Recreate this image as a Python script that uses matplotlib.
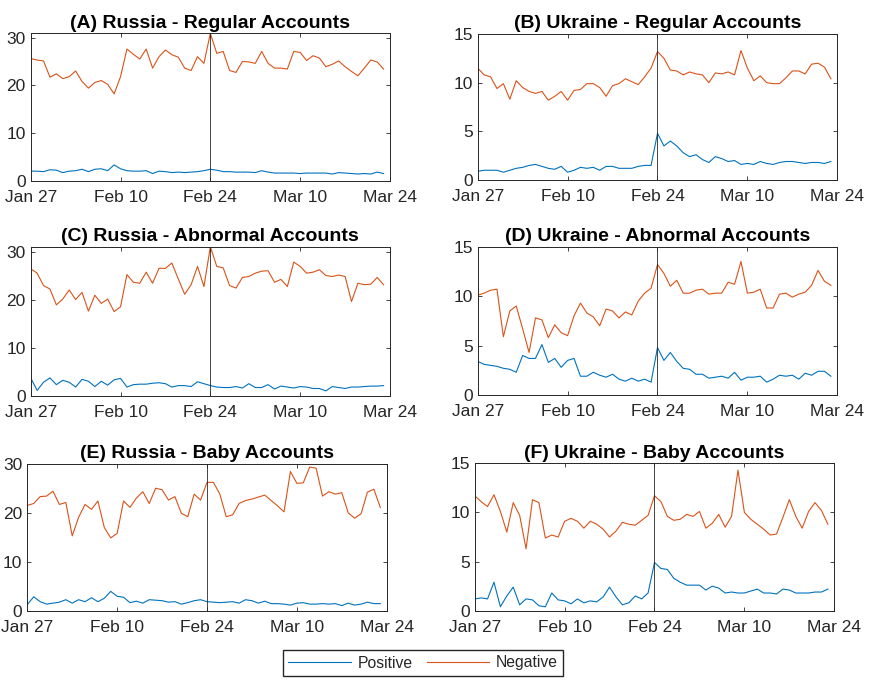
import matplotlib
matplotlib.use("Agg")
import matplotlib.pyplot as plt
import matplotlib.dates as mdates
import pandas as pd

plt.rcParams["font.family"] = ["Liberation Sans", "DejaVu Sans"]

dates = pd.date_range("2022-01-27", periods=56, freq="D")
war_start = pd.Timestamp("2022-02-24")
x_start = pd.Timestamp("2022-01-27")
x_end = pd.Timestamp("2022-03-24")

titles = [
    "(A) Russia - Regular Accounts",
    "(B) Ukraine - Regular Accounts",
    "(C) Russia - Abnormal Accounts",
    "(D) Ukraine - Abnormal Accounts",
    "(E) Russia - Baby Accounts",
    "(F) Ukraine - Baby Accounts",
]

ru_regular_pos = [2.0, 2.0, 1.9, 2.3, 2.2, 1.7, 2.0, 2.1, 2.4, 1.9, 2.4, 2.5, 2.1, 3.3, 2.5, 2.1,
                  2.0, 2.0, 2.1, 1.5, 2.0, 1.9, 1.7, 1.8, 1.7, 1.8, 1.9, 2.1, 2.4, 2.2, 1.9, 1.9,
                  1.8, 1.8, 1.8, 1.7, 2.1, 1.8, 1.6, 1.6, 1.6, 1.6, 1.5, 1.6, 1.6, 1.6, 1.6, 1.4,
                  1.7, 1.6, 1.5, 1.4, 1.5, 1.4, 1.8, 1.5]
ru_regular_neg = [25.6, 25.3, 25.1, 21.7, 22.4, 21.4, 21.8, 23.0, 20.8, 19.4, 20.6, 21.0, 20.2,
                  18.2, 21.8, 27.6, 26.5, 25.5, 27.6, 23.6, 26.0, 27.4, 26.4, 25.9, 23.6, 23.1,
                  26.0, 24.6, 30.9, 26.7, 27.1, 23.1, 22.7, 25.0, 24.9, 24.6, 27.1, 24.6, 23.6,
                  23.6, 23.4, 27.1, 26.9, 25.2, 26.2, 25.7, 23.9, 24.4, 25.1, 23.9, 22.9, 22.0,
                  23.6, 25.3, 24.9, 23.4]

ua_regular_pos = [0.9, 1.0, 1.0, 1.0, 0.8, 1.0, 1.2, 1.3, 1.5, 1.6, 1.4, 1.2, 1.1, 1.4, 0.8, 1.0,
                  1.3, 1.2, 1.3, 1.0, 1.4, 1.4, 1.2, 1.2, 1.2, 1.4, 1.5, 1.5, 4.8, 3.5, 4.0, 3.5,
                  2.8, 2.4, 2.6, 2.1, 1.8, 2.4, 2.2, 1.9, 2.0, 1.6, 1.7, 1.6, 1.9, 1.7, 1.6, 1.8,
                  1.9, 1.9, 1.8, 1.7, 1.8, 1.8, 1.7, 1.9]
ua_regular_neg = [11.5, 10.8, 10.6, 9.4, 9.9, 8.3, 10.2, 9.5, 9.1, 8.9, 9.1, 8.2, 8.6, 9.1, 8.2,
                  9.2, 9.3, 9.9, 9.9, 9.5, 8.6, 9.7, 9.9, 10.4, 10.1, 9.8, 10.6, 11.5, 13.2, 12.5,
                  11.3, 11.2, 10.8, 11.1, 10.9, 10.8, 10.0, 11.0, 10.9, 11.1, 10.8, 13.3, 11.5,
                  10.2, 10.7, 10.0, 9.9, 9.9, 10.5, 11.2, 11.2, 10.9, 11.9, 12.0, 11.6, 10.4]

ru_abnormal_pos = [3.7, 1.1, 2.8, 3.7, 2.3, 3.2, 2.8, 1.8, 3.4, 3.0, 1.9, 3.0, 2.2, 3.3, 3.6, 1.8,
                   2.3, 2.4, 2.4, 2.6, 2.7, 2.5, 1.8, 2.1, 2.1, 1.9, 2.9, 2.5, 2.1, 1.8, 1.7, 1.7,
                   1.9, 1.6, 2.5, 1.7, 1.7, 2.3, 1.4, 2.0, 1.8, 1.6, 1.9, 1.8, 1.5, 1.5, 1.0, 1.9,
                   1.7, 1.5, 1.8, 1.8, 1.9, 2.0, 2.0, 2.1]
ru_abnormal_neg = [26.4, 25.5, 22.9, 22.2, 18.9, 20.1, 22.0, 20.0, 21.5, 17.6, 20.9, 19.2, 20.1,
                   17.5, 18.5, 25.2, 23.6, 23.4, 25.7, 23.4, 26.5, 26.5, 27.6, 24.3, 21.1, 23.1,
                   26.9, 22.7, 31.0, 26.9, 26.6, 22.9, 22.4, 24.6, 24.8, 25.5, 25.9, 26.0, 23.6,
                   24.2, 22.7, 27.8, 26.9, 25.5, 25.7, 26.2, 25.0, 24.8, 25.1, 24.8, 19.6, 23.4,
                   23.1, 23.2, 24.6, 23.1]

ua_abnormal_pos = [3.4, 3.1, 3.0, 2.9, 2.7, 2.6, 2.3, 4.0, 3.7, 3.7, 5.1, 3.3, 3.7, 2.8, 3.5, 3.7,
                   1.9, 1.9, 2.3, 2.0, 1.8, 2.1, 1.6, 1.4, 1.7, 1.4, 1.6, 1.3, 4.8, 3.5, 4.3, 3.4,
                   2.7, 2.6, 2.1, 2.1, 1.7, 1.8, 1.9, 1.7, 2.3, 1.5, 1.8, 1.8, 1.9, 1.3, 1.6, 2.0,
                   1.9, 2.0, 1.6, 2.2, 2.0, 2.4, 2.4, 1.9]
ua_abnormal_neg = [10.1, 10.3, 10.6, 10.7, 5.9, 8.5, 9.0, 6.7, 4.3, 7.8, 7.6, 5.8, 7.1, 6.3, 6.0,
                   8.0, 9.3, 8.3, 7.9, 7.0, 8.7, 8.5, 7.8, 8.4, 8.1, 9.5, 10.3, 10.8, 13.2, 12.3,
                   11.0, 11.6, 10.3, 10.3, 10.6, 10.7, 10.2, 10.3, 10.3, 11.4, 11.2, 13.5, 10.3,
                   10.4, 10.7, 8.8, 8.8, 10.2, 10.3, 9.9, 10.2, 10.4, 11.1, 12.6, 11.5, 11.1]

ru_baby_pos = [1.3, 2.9, 1.9, 1.4, 1.6, 1.8, 2.3, 1.6, 2.3, 1.9, 2.7, 1.9, 2.6, 4.0, 3.0, 2.8,
               1.7, 2.0, 1.6, 2.3, 2.2, 2.1, 1.8, 1.9, 1.4, 1.7, 2.1, 2.3, 1.9, 1.8, 1.7, 1.8,
               1.9, 1.6, 2.3, 2.1, 1.6, 2.0, 1.5, 1.5, 1.4, 1.2, 1.6, 1.7, 1.4, 1.4, 1.5, 1.4,
               1.5, 1.1, 1.6, 1.2, 1.4, 1.8, 1.5, 1.5]
ru_baby_neg = [21.5, 21.9, 23.3, 23.4, 24.4, 21.7, 22.1, 15.3, 19.1, 21.7, 20.7, 22.4, 17.0, 14.9,
               15.8, 22.4, 21.1, 23.0, 24.3, 21.9, 25.0, 24.7, 22.6, 23.3, 19.9, 19.2, 23.8, 22.6,
               26.2, 26.2, 23.8, 19.2, 19.6, 21.9, 22.5, 22.8, 23.2, 23.6, 22.5, 21.4, 20.2, 28.4,
               26.0, 26.1, 29.3, 29.1, 23.4, 24.3, 23.8, 24.1, 20.0, 18.9, 19.8, 24.2, 24.8, 21.1]

ua_baby_pos = [1.2, 1.3, 1.2, 2.9, 0.4, 1.5, 2.4, 0.6, 1.2, 1.1, 0.5, 0.4, 1.8, 1.1, 1.0, 0.7,
               1.2, 0.8, 1.0, 0.9, 1.4, 2.4, 1.4, 0.6, 0.8, 1.5, 1.2, 1.8, 4.9, 4.3, 4.2, 3.3,
               2.9, 2.6, 2.6, 2.6, 2.1, 2.5, 2.3, 1.8, 1.9, 1.8, 1.8, 2.0, 2.2, 1.8, 1.8, 1.7,
               2.2, 2.1, 1.8, 1.8, 1.8, 1.9, 1.9, 2.2]
ua_baby_neg = [11.7, 11.1, 10.6, 11.8, 10.1, 8.0, 11.0, 9.7, 6.3, 11.3, 11.0, 7.4, 7.7, 7.5, 9.1,
               9.4, 9.1, 8.4, 9.1, 8.8, 8.3, 7.5, 8.1, 9.0, 8.8, 8.7, 9.2, 9.7, 11.7, 11.1, 9.6,
               9.2, 9.3, 9.8, 9.6, 10.1, 8.4, 8.9, 9.8, 8.5, 9.6, 14.3, 10.0, 9.3, 8.8, 8.3, 7.7,
               7.8, 9.5, 11.3, 9.6, 8.4, 10.1, 11.0, 10.2, 8.8]

positives = [ru_regular_pos, ua_regular_pos, ru_abnormal_pos, ua_abnormal_pos, ru_baby_pos, ua_baby_pos]
negatives = [ru_regular_neg, ua_regular_neg, ru_abnormal_neg, ua_abnormal_neg, ru_baby_neg, ua_baby_neg]
y_tops = [None, 15, None, 15, 30, 15]
y_ticks = [[0, 10, 20, 30], [0, 5, 10, 15]] * 3

# axes boxes in pixels: left, top, right, bottom
boxes = [
    (30.7, 33.3, 390.0, 180.7),
    (477.7, 34.0, 837.3, 180.0),
    (30.7, 246.7, 390.0, 395.7),
    (477.7, 246.7, 837.3, 395.0),
    (27.3, 463.7, 386.7, 611.0),
    (474.7, 463.3, 834.3, 610.7),
]

W, H = 874, 687
fig = plt.figure(figsize=(W / 100, H / 100), dpi=100)
dark = "#262626"
blue = "#0072BD"
orange = "#D95319"

for i in range(6):
    l, t, r, b = boxes[i]
    ax = fig.add_axes([l / W, 1 - b / H, (r - l) / W, (b - t) / H])
    hp, = ax.plot(dates, positives[i], color=blue, lw=0.8, label="Positive")
    hn, = ax.plot(dates, negatives[i], color=orange, lw=0.8, label="Negative")
    ax.axvline(war_start, color=dark, lw=0.6)
    ax.set_xlim(x_start, x_end)
    top = y_tops[i] if y_tops[i] is not None else max(negatives[i])
    ax.set_ylim(0, top)
    ax.set_yticks(y_ticks[i])
    ax.set_xticks(pd.date_range(x_start, x_end, freq="14D"))
    ax.xaxis.set_major_formatter(mdates.DateFormatter("%b %d"))
    ax.tick_params(direction="in", length=2.6, width=0.6, colors=dark, labelsize=12.5,
                   top=True, right=True)
    ax.tick_params(axis="x", pad=6.5)
    ax.tick_params(axis="y", pad=3.5)
    for s in ax.spines.values():
        s.set_color(dark)
        s.set_linewidth(0.7)
    ax.set_title(titles[i], fontsize=14, fontweight="bold", color="black", pad=4)

fig.legend([hp, hn], ["Positive", "Negative"], ncol=2, loc="center",
           bbox_to_anchor=(423 / W, 1 - 663 / H), fontsize=11.3, frameon=True,
           fancybox=False, edgecolor=dark, framealpha=1, handlelength=4.0,
           handletextpad=0.4, columnspacing=0.9, borderpad=0.35, labelcolor=dark)

plt.savefig("out.png", dpi=100)
